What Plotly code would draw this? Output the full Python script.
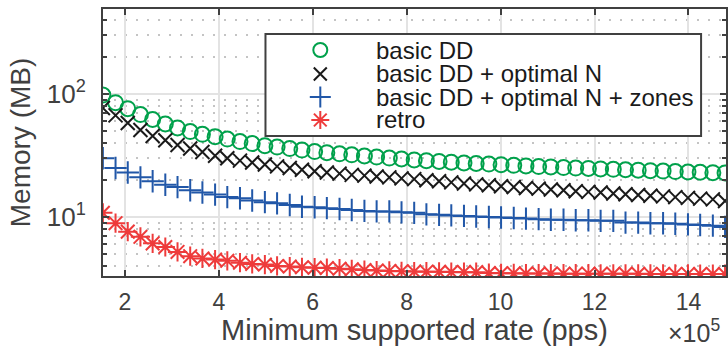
import plotly.graph_objects as go

# x values in units of 1e5 pps
rate = [1.53, 1.80, 2.06, 2.33, 2.59, 2.86, 3.12, 3.39, 3.65, 3.92,
        4.18, 4.45, 4.71, 4.98, 5.24, 5.51, 5.77, 6.04, 6.30, 6.57,
        6.83, 7.10, 7.36, 7.63, 7.89, 8.16, 8.42, 8.69, 8.95, 9.22,
        9.48, 9.75, 10.01, 10.28, 10.54, 10.81, 11.07, 11.34, 11.60, 11.87,
        12.13, 12.40, 12.66, 12.93, 13.19, 13.46, 13.72, 13.99, 14.25, 14.52,
        14.78]

basic_dd = [98, 85, 76, 68, 62, 57, 53, 49.5, 47, 45,
            43, 41, 39.5, 38, 37, 36, 35, 34, 33.3, 32.6,
            32, 31.3, 30.7, 30.1, 29.6, 29.1, 28.7, 28.3, 27.9, 27.5,
            27.2, 26.9, 26.6, 26.3, 26.0, 25.7, 25.5, 25.2, 25.0, 24.8,
            24.6, 24.4, 24.2, 24.0, 23.8, 23.6, 23.4, 23.2, 23.1, 22.9,
            22.8]

basic_dd_optn = [77, 67, 58, 51, 45.5, 42, 38.5, 36, 33.8, 31.5,
                 30, 28.7, 27.7, 26.7, 25.8, 25, 24.2, 23.5, 23, 22.5,
                 22, 21.7, 21.3, 21, 20.6, 20.3, 19.9, 19.5, 19.1, 18.7,
                 18.4, 18.1, 17.8, 17.5, 17.2, 17.0, 16.7, 16.5, 16.2, 16.0,
                 15.8, 15.5, 15.3, 15.1, 14.9, 14.7, 14.5, 14.3, 14.1, 13.9,
                 13.5]

basic_dd_optn_zones = [30, 25, 23, 21, 19.5, 18.3, 17.5, 16.5, 15.8, 15.2,
                       14.5, 14.2, 13.6, 13.2, 12.9, 12.5, 12.1, 12.0, 11.8, 11.6,
                       11.4, 11.2, 11.1, 11.1, 10.9, 10.8, 10.5, 10.4, 10.3, 10.2,
                       10.1, 10.0, 9.9, 9.8, 9.7, 9.6, 9.5, 9.5, 9.4, 9.4,
                       9.3, 9.3, 9.0, 9.0, 8.9, 8.9, 8.8, 8.7, 8.6, 8.5,
                       8.3]

retro = [10.8, 8.9, 7.6, 6.9, 6.1, 5.7, 5.2, 4.8, 4.6, 4.5,
         4.4, 4.25, 4.15, 4.1, 4.0, 3.95, 3.9, 3.87, 3.84, 3.8,
         3.75, 3.7, 3.67, 3.64, 3.62, 3.6, 3.59, 3.58, 3.57, 3.56,
         3.56, 3.5, 3.48, 3.48, 3.47, 3.47, 3.47, 3.46, 3.46, 3.46,
         3.45, 3.45, 3.45, 3.45, 3.44, 3.44, 3.44, 3.44, 3.43, 3.43,
         3.43]

series_names = ["basic DD", "basic DD + optimal N",
                "basic DD + optimal N + zones", "retro"]
series_values = [basic_dd, basic_dd_optn, basic_dd_optn_zones, retro]
series_colors = ["#00a14b", "#1a1a1a", "#2157a8", "#ee3b3b"]
series_symbols = ["circle-open", "x-thin-open", "cross-thin-open", "asterisk-open"]
series_sizes = [15, 14, 16, 16]

x_ticks = [2, 4, 6, 8, 10, 12, 14]
y_ticks = [10, 100]
y_ticktext = ["10<sup>1</sup>", "10<sup>2</sup>"]
x_title = "Minimum supported rate (pps)"
y_title = "Memory (MB)"

FONT = "Liberation Sans, Arial, Helvetica, sans-serif"
AX = "#404040"

X_RANGE = [1.533, 14.80]
Y_RANGE = [0.520, 2.691]  # log10


def box_x(f):
    return X_RANGE[0] + f * (X_RANGE[1] - X_RANGE[0])


def box_y(f):
    return 10 ** (Y_RANGE[0] + f * (Y_RANGE[1] - Y_RANGE[0]))


fig = go.Figure()
for name, vals, col, sym, sz in zip(series_names, series_values, series_colors,
                                    series_symbols, series_sizes):
    fig.add_trace(go.Scatter(
        x=rate, y=vals, mode="markers", name=name, showlegend=False,
        marker=dict(symbol=sym, size=sz, color=col, line=dict(color=col, width=2)),
    ))

# legend keys on an overlay axis (0..1 box coordinates)
leg_x = 0.3488
leg_rows = [0.8464, 0.7566, 0.6704, 0.5843]
for name, col, sym, sz, yy in zip(series_names, series_colors, series_symbols,
                                  series_sizes, leg_rows):
    fig.add_trace(go.Scatter(
        x=[leg_x], y=[yy], mode="markers", showlegend=False, xaxis="x2", yaxis="y2",
        marker=dict(symbol=sym, size=sz - 1, color=col, line=dict(color=col, width=2)),
        hoverinfo="skip",
    ))
    fig.add_annotation(
        xref="paper", yref="paper", x=0.4352, y=yy, xanchor="left", yanchor="middle",
        text=name, showarrow=False, font=dict(family=FONT, size=24, color="#1a1a1a"),
    )

# legend box (white, hides grid, under the marks)
fig.add_shape(type="rect", xref="x", yref="y",
              x0=box_x(0.2608), x1=box_x(0.96), y0=box_y(0.5243), y1=box_y(0.9064),
              line=dict(color=AX, width=2), fillcolor="white", layer="between")

# exponent label
fig.add_annotation(xref="paper", yref="paper", x=0.9936, y=-0.274,
                   xanchor="right", yanchor="bottom", showarrow=False,
                   text="\u00d710<sup>5</sup>",
                   font=dict(family=FONT, size=25, color=AX))

fig.update_layout(
    width=728, height=346,
    margin=dict(l=103, r=0, t=9, b=70),
    plot_bgcolor="white", paper_bgcolor="white",
    font=dict(family=FONT, color=AX),
    showlegend=False,
    xaxis=dict(
        range=X_RANGE, tickmode="array", tickvals=x_ticks,
        ticks="inside", ticklen=6, tickwidth=2, tickcolor=AX,
        showline=True, linecolor=AX, linewidth=2, mirror="ticks",
        showgrid=True, gridcolor="#e3e3e3", gridwidth=2, zeroline=False,
        tickfont=dict(size=23, color=AX), ticklabelstandoff=4,
        title=dict(text=x_title, font=dict(size=29, color=AX), standoff=5),
    ),
    yaxis=dict(
        type="log", range=Y_RANGE, tickmode="array", tickvals=y_ticks,
        ticktext=y_ticktext,
        ticks="inside", ticklen=6, tickwidth=2, tickcolor=AX,
        showline=True, linecolor=AX, linewidth=2, mirror="ticks",
        showgrid=True, gridcolor="#e3e3e3", gridwidth=2, zeroline=False,
        tickfont=dict(size=26, color=AX), ticklabelstandoff=10,
        title=dict(text=y_title, font=dict(size=28, color=AX), standoff=8),
        minor=dict(dtick="D1", ticks="inside", ticklen=4, tickwidth=2, tickcolor=AX,
                   showgrid=True, gridcolor="#c4c4c4", gridwidth=2, griddash="2px,9px"),
    ),
    xaxis2=dict(overlaying="x", range=[0, 1], visible=False),
    yaxis2=dict(overlaying="y", range=[0, 1], visible=False),
)

fig.write_html("out.html")
